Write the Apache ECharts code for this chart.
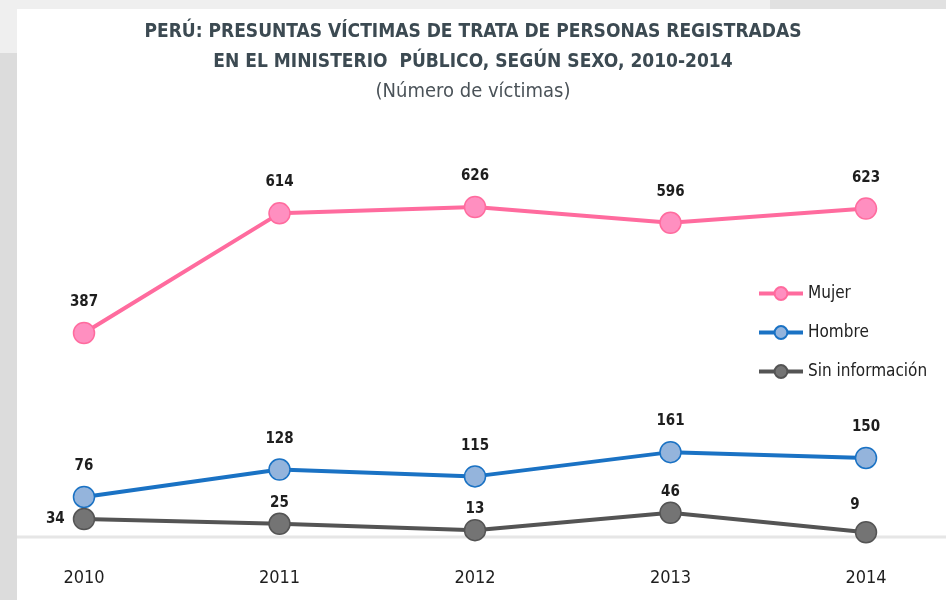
<!DOCTYPE html>
<html>
<head>
<meta charset="utf-8">
<script src="https://cdn.jsdelivr.net/npm/echarts@6/dist/echarts.min.js"></script>
<style>
  html, body { margin: 0; padding: 0; background: #fff; }
  #chart { width: 946px; height: 600px; }
</style>
</head>
<body>
<div id="chart"></div>
<script>
// Perú: presuntas víctimas de trata registradas en el Ministerio Público, 2010-2014
const years = ['2010', '2011', '2012', '2013', '2014'];
const mujer = [387, 614, 626, 596, 623];
const hombre = [76, 128, 115, 161, 150];
const sinInfo = [34, 25, 13, 46, 9];

const narrow = '"DejaVu Sans Condensed", "Liberation Sans Narrow", "Liberation Sans", sans-serif';

const labelStyle = {
    show: true, position: 'top', distance: 12,
    fontFamily: narrow, fontWeight: 'bold', fontSize: 15, color: '#1e1e1e',
};

function lineSeries(name, data, line, fill, extra) {
    return Object.assign({
        name: name,
        type: 'line',
        data: data,
        symbol: 'circle',
        symbolSize: 21,
        lineStyle: { color: line, width: 4 },
        itemStyle: { color: fill, borderColor: line, borderWidth: 1.5 },
        label: labelStyle,
        emphasis: { disabled: true },
        animation: false,
    }, extra || {});
}

// first and last "sin información" labels sit beside the point in the original
const sinData = sinInfo.map(function (v, i) {
    if (i === 0) return { value: v, label: { position: 'left', distance: 8 } };
    if (i === sinInfo.length - 1) return { value: v, label: { distance: 8, offset: [-11, 0] } };
    return v;
});

const chart = echarts.init(document.getElementById('chart'));
chart.setOption({
    backgroundColor: '#ffffff',
    title: {
        text: 'PERÚ: PRESUNTAS VÍCTIMAS DE TRATA DE PERSONAS REGISTRADAS\nEN EL MINISTERIO  PÚBLICO, SEGÚN SEXO, 2010-2014',
        subtext: '(Número de víctimas)',
        left: 'center', top: 12, itemGap: 4,
        textStyle: {
            fontFamily: narrow, fontWeight: 'bold', fontSize: 19,
            lineHeight: 30, color: '#3c4a52',
        },
        subtextStyle: {
            fontFamily: narrow, fontSize: 20, lineHeight: 22, color: '#4a5258',
        },
    },
    legend: {
        orient: 'vertical', left: 752, top: 280,
        itemWidth: 44, itemHeight: 16, itemGap: 22,
        lineStyle: { width: 4 },
        textStyle: { fontFamily: narrow, fontSize: 17, color: '#222' },
        data: ['Mujer', 'Hombre', 'Sin información'],
    },
    grid: { left: 84, right: 80, top: 168, bottom: 63 },
    xAxis: {
        type: 'category', data: years, boundaryGap: false,
        axisLine: { show: false },
        axisTick: { show: false },
        axisLabel: { margin: 32, fontFamily: narrow, fontSize: 18, color: '#1e1e1e' },
    },
    yAxis: {
        type: 'value', min: 0, max: 700, show: false,
        splitLine: { show: false },
    },
    series: [
        lineSeries('Mujer', mujer, '#ff6b9e', '#ff8fc0'),
        lineSeries('Hombre', hombre, '#1a72c4', '#94b4dc'),
        lineSeries('Sin información', sinData, '#545454', '#747474', {
            label: Object.assign({}, labelStyle, { distance: 2 }),
        }),
    ],
});

// page frame + baseline running the full width, baseline y taken from the value axis
const baseY = chart.convertToPixel({ yAxisIndex: 0 }, 0);
chart.setOption({
    graphic: [
        { type: 'line', z: -1, shape: { x1: 17, y1: baseY, x2: 946, y2: baseY },
          style: { stroke: '#e6e6e6', lineWidth: 3 } },
        { type: 'rect', z: 100, shape: { x: 0, y: 0, width: 770, height: 9 }, style: { fill: '#efefef' } },
        { type: 'rect', z: 100, shape: { x: 770, y: 0, width: 176, height: 9 }, style: { fill: '#e1e1e1' } },
        { type: 'rect', z: 100, shape: { x: 0, y: 0, width: 17, height: 53 }, style: { fill: '#efefef' } },
        { type: 'rect', z: 100, shape: { x: 0, y: 53, width: 17, height: 547 }, style: { fill: '#dcdcdc' } },
    ],
});
</script>
</body>
</html>
